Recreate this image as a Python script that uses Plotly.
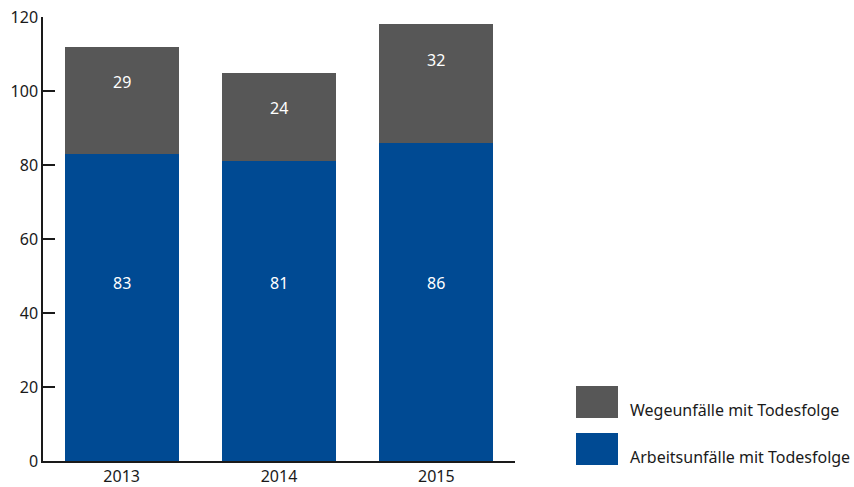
import plotly.graph_objects as go

# Tödliche Unfälle nach Jahr
years = ["2013", "2014", "2015"]
arbeit = [83, 81, 86]
wege = [29, 24, 32]
series_names = ["Wegeunfälle mit Todesfolge", "Arbeitsunfälle mit Todesfolge"]
y_ticks = [0, 20, 40, 60, 80, 100, 120]

BLUE = "#004a93"
GREY = "#575757"
FONT = "Noto Sans"
FS = 16

fig = go.Figure()
fig.add_trace(go.Bar(x=years, y=arbeit, marker_color=BLUE, marker_line_width=0,
                     name=series_names[1], showlegend=False))
fig.add_trace(go.Bar(x=years, y=wege, marker_color=GREY, marker_line_width=0,
                     name=series_names[0], showlegend=False))

# value labels inside the segments (x given as category index)
for i, (a, w) in enumerate(zip(arbeit, wege)):
    fig.add_annotation(x=i, y=48, text=str(a), showarrow=False,
                       font=dict(family=FONT, size=FS, color="white"))
    fig.add_annotation(x=i, y=a + w - 9.5, text=str(w), showarrow=False,
                       font=dict(family=FONT, size=FS, color="white"))

# legend drawn as large colour swatches
legend_items = [(series_names[0], GREY, 0.0), (series_names[1], BLUE, 47.0)]
for label, col, dy in legend_items:
    fig.add_shape(type="rect", xref="paper", yref="paper",
                  x0=(576 - 43) / 472, x1=(618 - 43) / 472,
                  y0=(461 - 418 - dy) / 444, y1=(461 - 386 - dy) / 444,
                  fillcolor=col, line_width=0)
    fig.add_annotation(xref="paper", yref="paper", x=(628 - 43) / 472,
                       y=(461 - 410 - dy) / 444, text=label, showarrow=False,
                       xanchor="left", yanchor="middle",
                       font=dict(family=FONT, size=FS, color="#1a1a1a"))

fig.update_layout(
    barmode="stack",
    bargap=0.274,
    width=854, height=487,
    margin=dict(l=43, r=339, t=17, b=26),
    plot_bgcolor="white", paper_bgcolor="white",
    font=dict(family=FONT, size=FS, color="#1a1a1a"),
)
fig.update_xaxes(type="category", showline=True, linecolor="#1a1a1a",
                 linewidth=1.5, ticks="", showgrid=False, automargin=False,
                 tickfont=dict(size=FS))
fig.update_yaxes(range=[0, 120], tickvals=y_ticks, ticksuffix="   ",
                 showline=True, linecolor="#1a1a1a", linewidth=1.5,
                 ticks="inside", ticklen=12, tickwidth=1.5,
                 tickcolor="#1a1a1a", showgrid=False, zeroline=False,
                 automargin=False, tickfont=dict(size=FS))

fig.write_html("out.html")
